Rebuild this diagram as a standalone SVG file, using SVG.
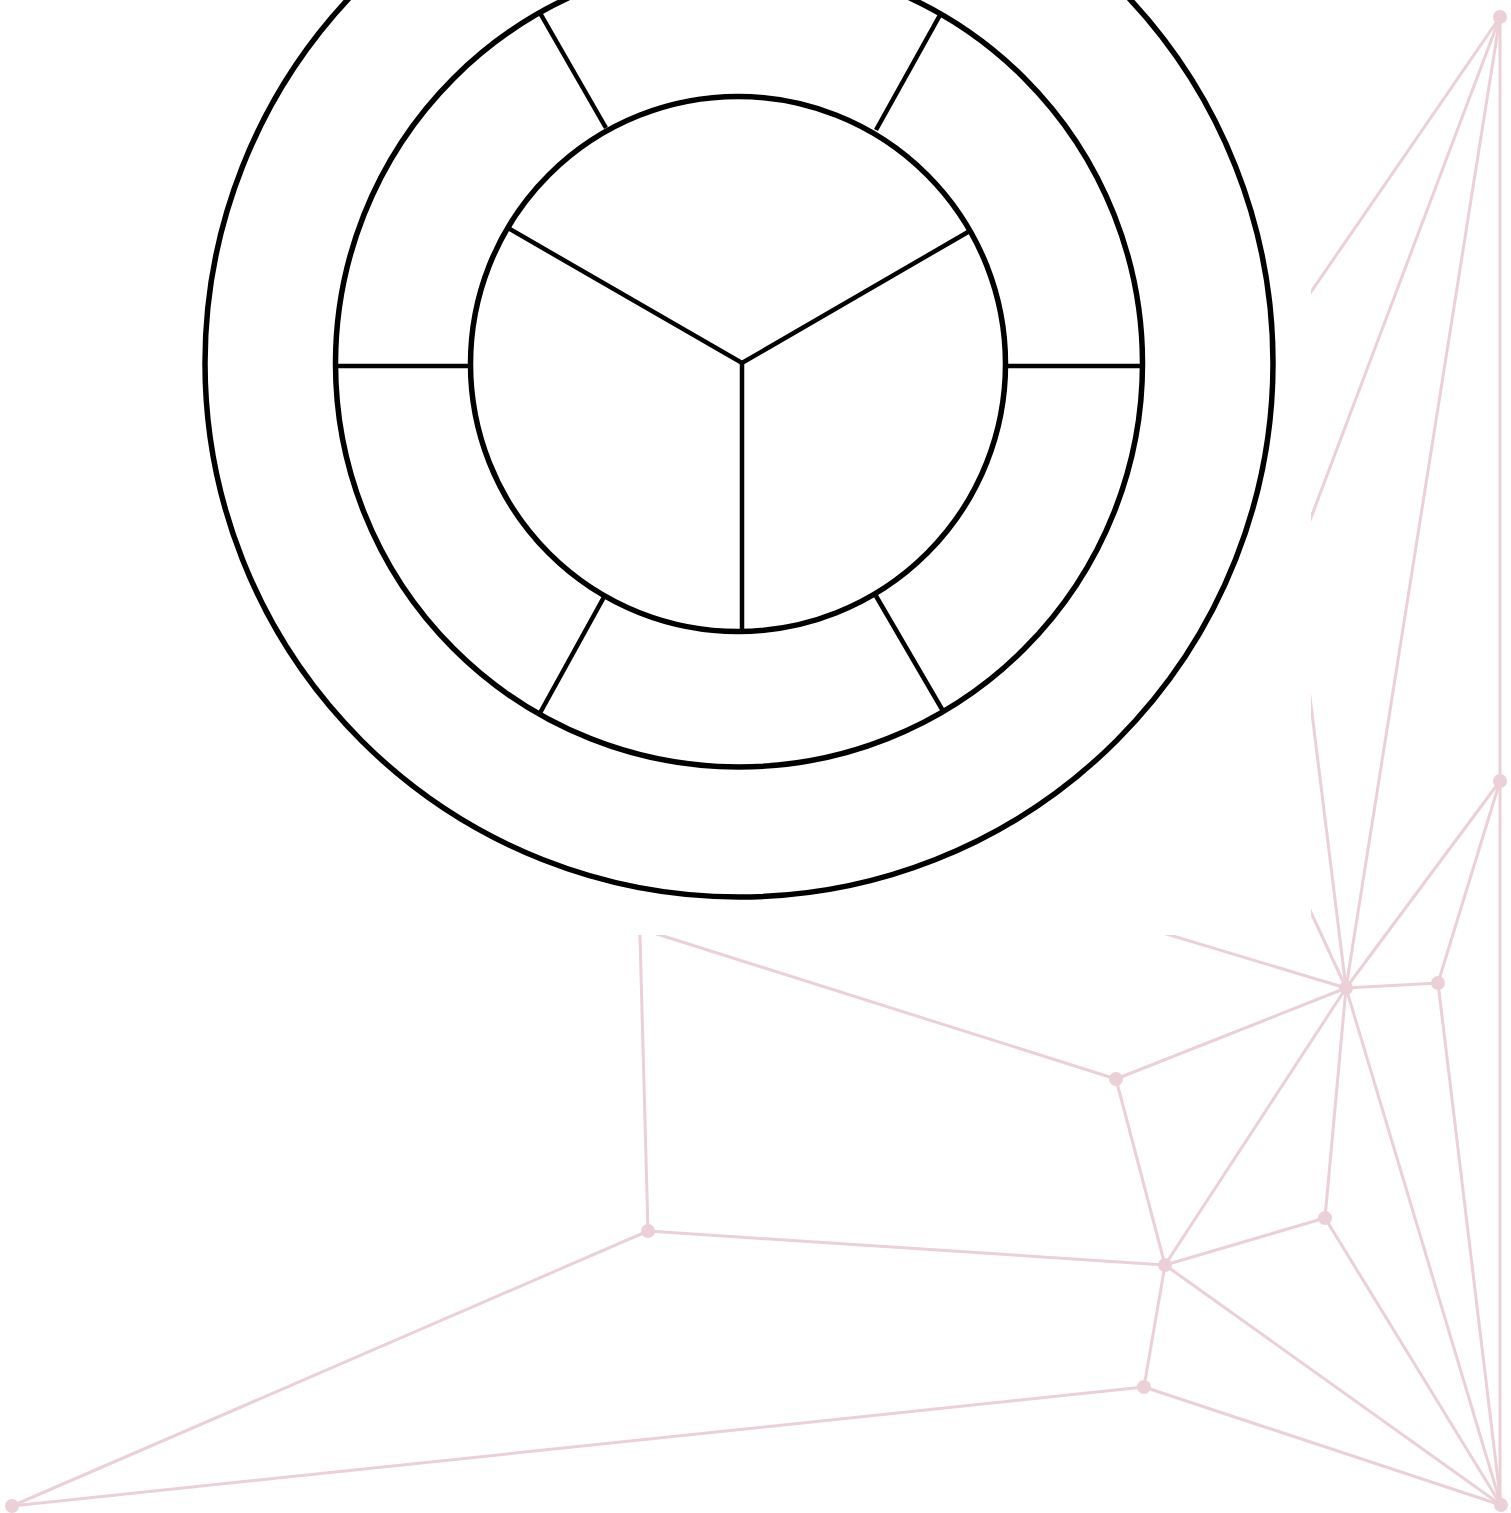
<svg xmlns="http://www.w3.org/2000/svg" width="1511" height="1513" viewBox="0 0 1511 1513">
<style>
.e{stroke:#ebd0d8;stroke-width:3;fill:none;stroke-linecap:round}
.n{fill:#ebd0d8}
.c{fill:none;stroke:#000;stroke-width:5.5}
.s{stroke:#000;stroke-width:4.5;fill:none}
</style>
<rect width="1511" height="1513" fill="#fff"/>
<g id="connectors">
<line class="e" x1="1500" y1="17" x2="1500" y2="1505"/>
<line class="e" x1="1500" y1="17" x2="1280" y2="337"/>
<line class="e" x1="1500" y1="17" x2="1295" y2="560"/>
<line class="e" x1="1500" y1="17" x2="1346" y2="988"/>
<line class="e" x1="1298" y1="600" x2="1346" y2="988"/>
<line class="e" x1="1296" y1="880" x2="1346" y2="988"/>
<line class="e" x1="1100" y1="914" x2="1346" y2="988"/>
<line class="e" x1="1500" y1="781" x2="1346" y2="988"/>
<line class="e" x1="1500" y1="781" x2="1438" y2="983"/>
<line class="e" x1="1346" y1="988" x2="1438" y2="983"/>
<line class="e" x1="1438" y1="983" x2="1501" y2="1505"/>
<line class="e" x1="1346" y1="988" x2="1116" y2="1079"/>
<line class="e" x1="600" y1="916" x2="1116" y2="1079"/>
<line class="e" x1="639" y1="900" x2="648" y2="1231"/>
<line class="e" x1="1116" y1="1079" x2="1165" y2="1265"/>
<line class="e" x1="1346" y1="988" x2="1165" y2="1265"/>
<line class="e" x1="1346" y1="988" x2="1325" y2="1218"/>
<line class="e" x1="1346" y1="988" x2="1501" y2="1505"/>
<line class="e" x1="1325" y1="1218" x2="1165" y2="1265"/>
<line class="e" x1="1325" y1="1218" x2="1501" y2="1505"/>
<line class="e" x1="648" y1="1231" x2="1165" y2="1265"/>
<line class="e" x1="648" y1="1231" x2="12" y2="1506"/>
<line class="e" x1="1165" y1="1265" x2="1144" y2="1387"/>
<line class="e" x1="1165" y1="1265" x2="1501" y2="1505"/>
<line class="e" x1="1144" y1="1387" x2="1501" y2="1505"/>
<line class="e" x1="1144" y1="1387" x2="12" y2="1506"/>
</g>
<g id="n1"><circle class="n" cx="1500" cy="17" r="7"/></g>
<g id="n2"><circle class="n" cx="1500" cy="781" r="7"/></g>
<g id="n3"><circle class="n" cx="1346" cy="988" r="7"/></g>
<g id="n4"><circle class="n" cx="1438" cy="983" r="7"/></g>
<g id="n5"><circle class="n" cx="1116" cy="1079" r="7"/></g>
<g id="n6"><circle class="n" cx="648" cy="1231" r="7"/></g>
<g id="n7"><circle class="n" cx="1325" cy="1218" r="7"/></g>
<g id="n8"><circle class="n" cx="1165" cy="1265" r="7"/></g>
<g id="n9"><circle class="n" cx="1144" cy="1387" r="7"/></g>
<g id="n10"><circle class="n" cx="12" cy="1506" r="7"/></g>
<g id="n11"><circle class="n" cx="1501" cy="1505" r="7"/></g>
<g id="wheel">
<rect x="0" y="0" width="1311" height="935" fill="#fff"/>
<circle class="c" cx="739" cy="363" r="534"/>
<circle class="c" cx="739" cy="363.5" r="403.5"/>
<circle class="c" cx="738" cy="364" r="267.5"/>
<line class="s" x1="742" y1="362" x2="742" y2="631"/>
<path class="s" d="M508 228 L742 363 L968 232"/>
<line class="s" x1="337" y1="366" x2="470" y2="366"/>
<line class="s" x1="1006" y1="366" x2="1142" y2="366"/>
<line class="s" x1="540" y1="13" x2="606" y2="128"/>
<line class="s" x1="940" y1="15" x2="876" y2="130"/>
<line class="s" x1="604" y1="597" x2="540" y2="713"/>
<line class="s" x1="876" y1="596" x2="943" y2="711"/>
</g>
</svg>
